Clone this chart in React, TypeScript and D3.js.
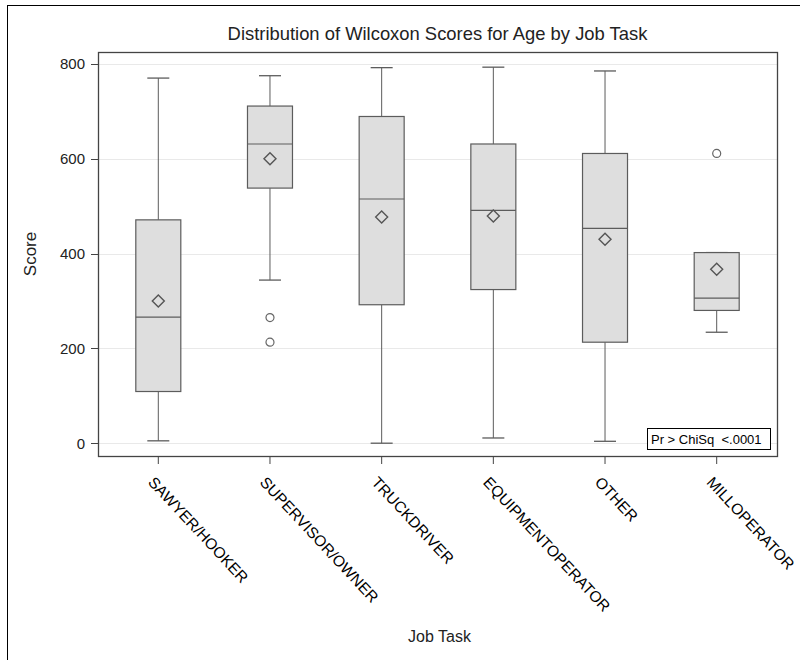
import { useEffect, useRef } from "react";
import * as d3 from "d3";

const categories = [
    "SAWYER/HOOKER",
    "SUPERVISOR/OWNER",
    "TRUCKDRIVER",
    "EQUIPMENTOPERATOR",
    "OTHER",
    "MILLOPERATOR",
];

const whiskerLows = [5, 344, 0, 11, 4, 234];
const q1Values = [109, 538, 292, 324, 213, 280];
const medians = [266, 631, 515, 491, 453, 306];
const q3Values = [471, 711, 689, 631, 611, 402];
const whiskerHighs = [770, 775, 792, 793, 785, 402];
const means = [300, 600, 477, 479, 430, 367];
const outliers: number[][] = [[], [265, 213], [], [], [], [611]];

const yTicks = [0, 200, 400, 600, 800];

const FONT = "'Liberation Sans', Arial, sans-serif";

export default function App() {
    const svgRef = useRef<SVGSVGElement | null>(null);

    useEffect(() => {
        const svg = d3.select(svgRef.current);
        svg.selectAll("*").remove();

        const width = 800;
        const height = 660;
        const plot = { left: 98, right: 777, top: 52, bottom: 456 };

        svg.attr("width", width)
            .attr("height", height)
            .style("font-family", FONT);

        svg.append("rect")
            .attr("width", width)
            .attr("height", height)
            .attr("fill", "#fff");

        // outer frame (runs off the right and bottom edges)
        svg.append("rect")
            .attr("x", 7.5)
            .attr("y", 5.5)
            .attr("width", 820)
            .attr("height", 700)
            .attr("fill", "none")
            .attr("stroke", "#000")
            .attr("stroke-width", 1);

        const x = d3
            .scalePoint<string>()
            .domain(categories)
            .range([plot.left, plot.right])
            .padding(0.54);

        const y = d3
            .scaleLinear()
            .domain([-27, 825])
            .range([plot.bottom, plot.top]);

        // grid
        svg.append("g")
            .selectAll("line")
            .data(yTicks)
            .join("line")
            .attr("x1", plot.left)
            .attr("x2", plot.right)
            .attr("y1", (d) => Math.round(y(d)) + 0.5)
            .attr("y2", (d) => Math.round(y(d)) + 0.5)
            .attr("stroke", "#e9e9e9")
            .attr("stroke-width", 1);

        const boxW = 45;
        const capW = 22;
        const stroke = "#5c5c5c";

        const boxes = svg
            .append("g")
            .selectAll("g")
            .data(categories)
            .join("g")
            .attr("transform", (d) => `translate(${x(d)},0)`);

        // whiskers
        boxes.append("line")
            .attr("x1", 0)
            .attr("x2", 0)
            .attr("y1", (_, i) => y(whiskerHighs[i]))
            .attr("y2", (_, i) => y(q3Values[i]))
            .attr("stroke", stroke);
        boxes.append("line")
            .attr("x1", 0)
            .attr("x2", 0)
            .attr("y1", (_, i) => y(q1Values[i]))
            .attr("y2", (_, i) => y(whiskerLows[i]))
            .attr("stroke", stroke);
        boxes.append("line")
            .attr("x1", -capW / 2)
            .attr("x2", capW / 2)
            .attr("y1", (_, i) => y(whiskerHighs[i]))
            .attr("y2", (_, i) => y(whiskerHighs[i]))
            .attr("stroke", stroke)
            .attr("stroke-width", 1.3);
        boxes.append("line")
            .attr("x1", -capW / 2)
            .attr("x2", capW / 2)
            .attr("y1", (_, i) => y(whiskerLows[i]))
            .attr("y2", (_, i) => y(whiskerLows[i]))
            .attr("stroke", stroke)
            .attr("stroke-width", 1.3);

        // box
        boxes.append("rect")
            .attr("x", -boxW / 2)
            .attr("width", boxW)
            .attr("y", (_, i) => y(q3Values[i]))
            .attr("height", (_, i) => y(q1Values[i]) - y(q3Values[i]))
            .attr("fill", "#dedede")
            .attr("stroke", stroke)
            .attr("stroke-width", 1.2);
        boxes.append("line")
            .attr("x1", -boxW / 2)
            .attr("x2", boxW / 2)
            .attr("y1", (_, i) => y(medians[i]))
            .attr("y2", (_, i) => y(medians[i]))
            .attr("stroke", stroke)
            .attr("stroke-width", 1.2);

        // mean diamond
        boxes.append("path")
            .attr("d", (_, i) => {
                const cy = y(means[i]);
                return `M0,${cy - 6}L6,${cy}L0,${cy + 6}L-6,${cy}Z`;
            })
            .attr("fill", "none")
            .attr("stroke", "#555")
            .attr("stroke-width", 1.4);

        // outliers
        boxes.selectAll("circle")
            .data((_, i) => outliers[i])
            .join("circle")
            .attr("cx", 0)
            .attr("cy", (d) => y(d))
            .attr("r", 4)
            .attr("fill", "none")
            .attr("stroke", "#666")
            .attr("stroke-width", 1.2);

        // plot frame
        svg.append("rect")
            .attr("x", plot.left + 0.5)
            .attr("y", plot.top + 0.5)
            .attr("width", plot.right - plot.left)
            .attr("height", plot.bottom - plot.top)
            .attr("fill", "none")
            .attr("stroke", "#444")
            .attr("stroke-width", 1.3);

        // y axis
        const yAxis = svg.append("g");
        yAxis.selectAll("line")
            .data(yTicks)
            .join("line")
            .attr("x1", plot.left - 7)
            .attr("x2", plot.left)
            .attr("y1", (d) => Math.round(y(d)) + 0.5)
            .attr("y2", (d) => Math.round(y(d)) + 0.5)
            .attr("stroke", "#444");
        yAxis.selectAll("text")
            .data(yTicks)
            .join("text")
            .attr("x", plot.left - 13)
            .attr("y", (d) => y(d))
            .attr("dy", "0.36em")
            .attr("text-anchor", "end")
            .attr("font-size", 15)
            .attr("fill", "#222")
            .text((d) => d);

        // x axis
        const xAxis = svg.append("g");
        xAxis.selectAll("line")
            .data(categories)
            .join("line")
            .attr("x1", (d) => x(d)!)
            .attr("x2", (d) => x(d)!)
            .attr("y1", plot.bottom)
            .attr("y2", plot.bottom + 8)
            .attr("stroke", "#444");
        xAxis.selectAll("text")
            .data(categories)
            .join("text")
            .attr(
                "transform",
                (d) => `translate(${x(d)! - 11},${plot.bottom + 27}) rotate(47)`
            )
            .attr("font-size", 15.5)
            .attr("fill", "#000")
            .text((d) => d);

        // titles
        svg.append("text")
            .attr("x", (plot.left + plot.right) / 2)
            .attr("y", 40)
            .attr("text-anchor", "middle")
            .attr("font-size", 18.4)
            .attr("fill", "#222")
            .text("Distribution of Wilcoxon Scores for Age by Job Task");

        svg.append("text")
            .attr("transform", `translate(36,${(plot.top + plot.bottom) / 2}) rotate(-90)`)
            .attr("text-anchor", "middle")
            .attr("font-size", 17)
            .attr("fill", "#222")
            .text("Score");

        svg.append("text")
            .attr("x", (plot.left + plot.right) / 2 + 2)
            .attr("y", 642)
            .attr("text-anchor", "middle")
            .attr("font-size", 16)
            .attr("fill", "#222")
            .text("Job Task");

        // p-value inset
        const inset = svg.append("g");
        inset.append("rect")
            .attr("x", 647.5)
            .attr("y", 428.5)
            .attr("width", 123)
            .attr("height", 21)
            .attr("fill", "#fff")
            .attr("stroke", "#000");
        inset.append("text")
            .attr("x", 651)
            .attr("y", 444)
            .attr("font-size", 13)
            .attr("fill", "#000")
            .attr("xml:space", "preserve")
            .style("white-space", "pre")
            .text("Pr > ChiSq  <.0001");
    }, []);

    return (
        <svg
            ref={svgRef}
            style={{ position: "absolute", left: 0, top: 0 }}
        />
    );
}
